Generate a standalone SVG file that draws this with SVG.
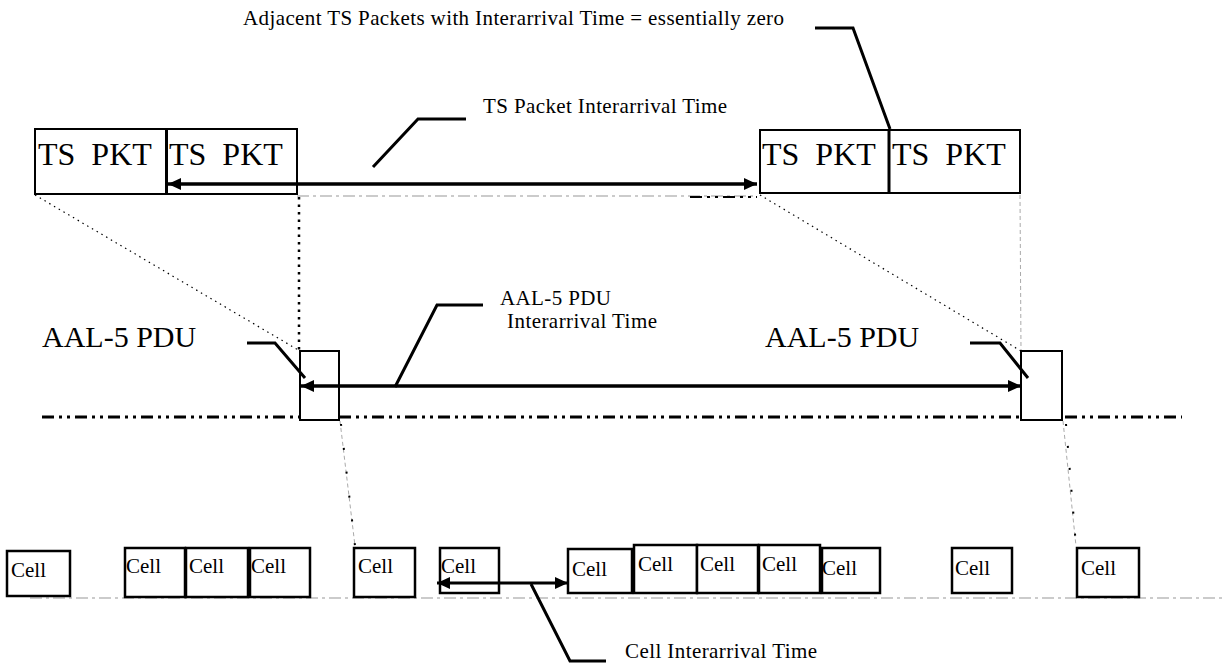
<svg xmlns="http://www.w3.org/2000/svg" width="1226" height="664" viewBox="0 0 1226 664">
<defs>
<marker id="ah" markerUnits="userSpaceOnUse" markerWidth="14" markerHeight="14" viewBox="0 0 14 14" refX="13" refY="7" orient="auto-start-reverse">
<path d="M0,1 L13,7 L0,13 Z" fill="#000"/>
</marker>
</defs>
<style>
text{font-family:'Liberation Serif','DejaVu Serif',serif;fill:#000}
.big{font-size:32px}
.pdu{font-size:30px}
.lbl{font-size:21px}
.cell{font-size:21px}
.box{fill:#fff;stroke:#000;stroke-width:2}
.cbox{fill:#fff;stroke:#000;stroke-width:2.5}
.call{fill:none;stroke:#000;stroke-width:3}
.arr{fill:none;stroke:#000;stroke-width:3.5}
.dot{fill:none;stroke:#000;stroke-width:1.2;stroke-dasharray:1.5 4}
.sq{fill:none;stroke:#000;stroke-width:2.5;stroke-dasharray:2.5 5}
.gdash{fill:none;stroke:#aaa;stroke-width:1;stroke-dasharray:4 3}
.axis{fill:none;stroke:#000;stroke-width:3;stroke-dasharray:12 5 3 5 3 5}
.gaxis{fill:none;stroke:#bbb;stroke-width:1.5;stroke-dasharray:12 4 3 4}
</style>
<rect width="1226" height="664" fill="#fff"/>

<g id="guides">
<line class="gaxis" x1="297" y1="196" x2="757" y2="196"/>
<line class="axis" x1="690" y1="197" x2="757" y2="197" style="stroke-width:2"/>
<line class="axis" x1="42" y1="417" x2="1182" y2="417"/>
<line class="gaxis" x1="30" y1="598" x2="1226" y2="598"/>
<line class="dot" x1="35" y1="195" x2="300" y2="351"/>
<line class="sq" x1="299" y1="197" x2="299" y2="350"/>
<line class="dot" x1="760" y1="195" x2="1021" y2="351"/>
<line class="gdash" x1="1020" y1="195" x2="1021" y2="350"/>
<line class="gdash" x1="340" y1="421" x2="355" y2="546"/>
<line class="sq" x1="341" y1="424" x2="355" y2="546" style="stroke-width:2;stroke-dasharray:2 22"/>
<line class="gdash" x1="1063" y1="421" x2="1076" y2="546"/>
<line class="sq" x1="1066" y1="424" x2="1076" y2="546" style="stroke-width:2;stroke-dasharray:2 20"/>
</g>

<g id="ts1"><rect class="box" x="35" y="129" width="131" height="65"/><text class="big" x="38" y="165">TS&#160; PKT</text></g>
<g id="ts2"><rect class="box" x="166" y="129" width="131" height="65"/><text class="big" x="169" y="165">TS&#160; PKT</text></g>
<g id="ts3"><rect class="box" x="760" y="130" width="129" height="63"/><text class="big" x="762" y="165">TS&#160; PKT</text></g>
<g id="ts4"><rect class="box" x="889" y="130" width="131" height="63"/><text class="big" x="892" y="165">TS&#160; PKT</text></g>
<line x1="166.5" y1="129" x2="166.5" y2="194" stroke="#000" stroke-width="3"/>
<line x1="889" y1="130" x2="889" y2="193" stroke="#000" stroke-width="3"/>

<g id="pdu1"><rect class="box" x="300" y="351" width="39" height="69"/></g>
<g id="pdu2"><rect class="box" x="1021" y="351" width="41" height="69"/></g>

<g id="cells">
<g id="c1"><rect class="cbox" x="7" y="551" width="63" height="45"/><text class="cell" x="11" y="577">Cell</text></g>
<g id="c2"><rect class="cbox" x="125" y="548" width="60" height="49"/><text class="cell" x="126" y="573">Cell</text></g>
<g id="c3"><rect class="cbox" x="186" y="548" width="62" height="49"/><text class="cell" x="189" y="573">Cell</text></g>
<g id="c4"><rect class="cbox" x="250" y="548" width="60" height="49"/><text class="cell" x="251" y="573">Cell</text></g>
<g id="c5"><rect class="cbox" x="354" y="548" width="61" height="49"/><text class="cell" x="358" y="573">Cell</text></g>
<g id="c6"><rect class="cbox" x="440" y="548" width="59" height="45"/><text class="cell" x="441" y="573">Cell</text></g>
<g id="c7"><rect class="cbox" x="568" y="549" width="64" height="44"/><text class="cell" x="572" y="576">Cell</text></g>
<g id="c8"><rect class="cbox" x="634" y="545" width="63" height="48"/><text class="cell" x="638" y="571">Cell</text></g>
<g id="c9"><rect class="cbox" x="697" y="545" width="61" height="48"/><text class="cell" x="700" y="571">Cell</text></g>
<g id="c10"><rect class="cbox" x="759" y="545" width="61" height="48"/><text class="cell" x="762" y="571">Cell</text></g>
<g id="c11"><rect class="cbox" x="822" y="548" width="58" height="45"/><text class="cell" x="822" y="575">Cell</text></g>
<g id="c12"><rect class="cbox" x="952" y="548" width="60" height="45"/><text class="cell" x="955" y="575">Cell</text></g>
<g id="c13"><rect class="cbox" x="1077" y="548" width="62" height="49"/><text class="cell" x="1081" y="575">Cell</text></g>
</g>

<g id="connectors">
<line class="arr" x1="168" y1="184" x2="757" y2="184" marker-start="url(#ah)" marker-end="url(#ah)"/>
<line class="arr" x1="301" y1="386" x2="1021" y2="386" marker-start="url(#ah)" marker-end="url(#ah)"/>
<line class="arr" x1="437" y1="583" x2="568" y2="583" marker-start="url(#ah)" marker-end="url(#ah)" style="stroke-width:3"/>
<polyline class="call" points="373,167 418,119 466,119"/>
<polyline class="call" points="815,28 853,28 890,129"/>
<polyline class="call" points="247,343 275,343 305,378"/>
<polyline class="call" points="970,343 1000,343 1028,378"/>
<polyline class="call" points="395,387 437,305 483,305"/>
<polyline class="call" points="531,584 570,661 606,661"/>
</g>

<g id="labels">
<text class="lbl" x="243" y="25" textLength="541" lengthAdjust="spacing">Adjacent TS Packets with Interarrival Time = essentially zero</text>
<text class="lbl" x="483" y="113" textLength="244" lengthAdjust="spacing">TS Packet Interarrival Time</text>
<text class="pdu" x="42" y="347">AAL-5 PDU</text>
<text class="pdu" x="765" y="347">AAL-5 PDU</text>
<text class="lbl" x="500" y="305" textLength="111" lengthAdjust="spacing">AAL-5 PDU</text>
<text class="lbl" x="507" y="328" textLength="150" lengthAdjust="spacing">Interarrival Time</text>
<text class="lbl" x="625" y="658" textLength="192" lengthAdjust="spacing">Cell Interarrival Time</text>
</g>
</svg>
